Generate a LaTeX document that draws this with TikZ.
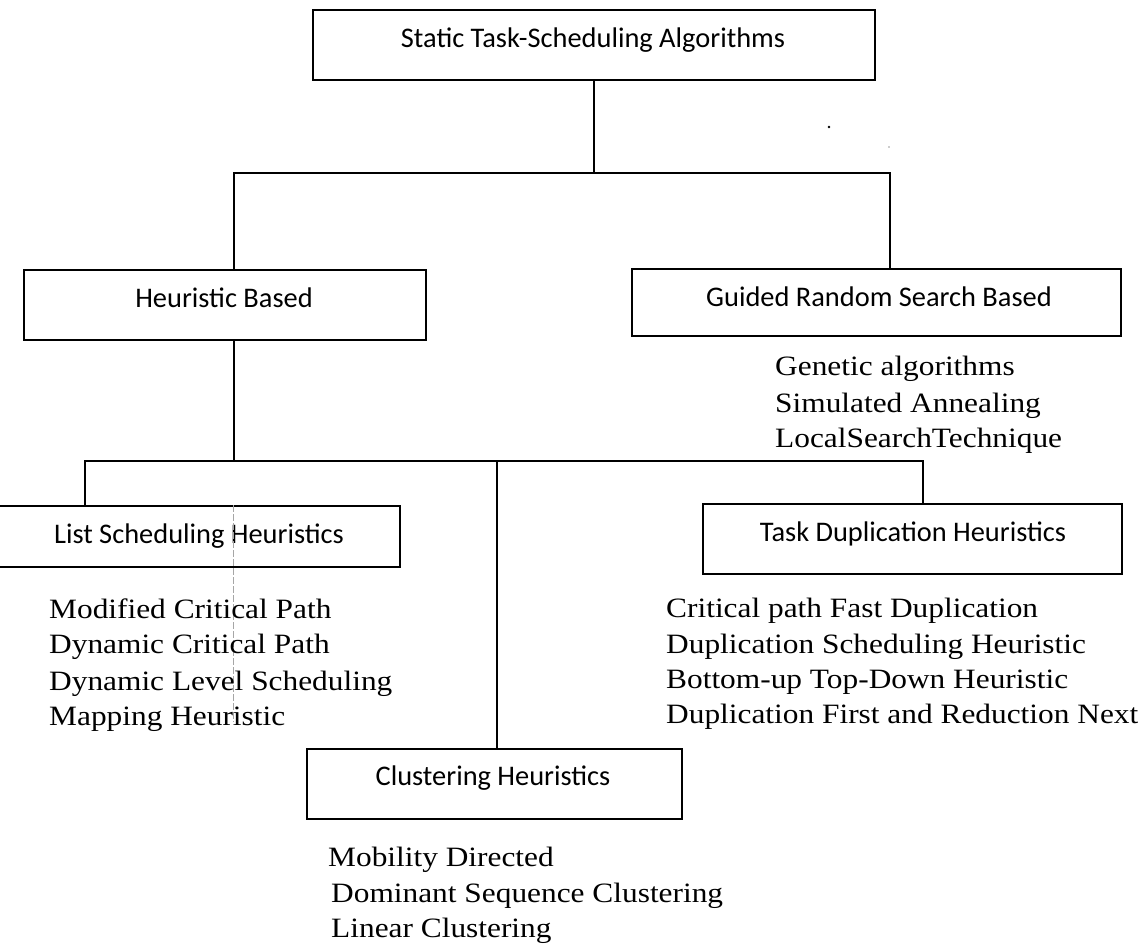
\documentclass[tikz,border=0pt]{standalone}
\usepackage{fontspec}
\setmainfont{Liberation Serif}
\newfontfamily\boxfont{Carlito}
\newfontfamily\listfont{Liberation Serif}[FakeStretch=1.12]
\begin{document}
\begin{tikzpicture}[x=1pt,y=-1pt,
  box/.style={draw, line width=2pt, inner sep=0pt, anchor=north west},
  blab/.style={font=\boxfont\fontsize{28.4}{34}\selectfont, inner sep=0pt, anchor=base},
  item/.style={font=\listfont\fontsize{28}{34}\selectfont, inner sep=0pt, anchor=base west},
  conn/.style={line width=1.8pt},
  faint/.style={draw=black!35, line width=0.7pt, dash pattern=on 7pt off 2pt}]
\useasboundingbox (0,0) rectangle (1143,946);

% boxes
\node[box, minimum width=562pt, minimum height=70pt] (top) at (312,9) {};
\node[box, minimum width=402pt, minimum height=70pt] (heur) at (23,269) {};
\node[box, minimum width=489pt, minimum height=67pt] (guid) at (631,268) {};
\node[box, minimum width=403pt, minimum height=61pt] (list) at (-4,505) {};
\node[box, minimum width=419pt, minimum height=70pt] (dup) at (702,503) {};
\node[box, minimum width=375pt, minimum height=70pt] (clus) at (306,748) {};

% box labels
\node[blab] (toplab) at (593,47) {Static Task-Scheduling Algorithms};
\node[blab] (heurlab) at (224,307) {Heuristic Based};
\node[blab] (guidlab) at (879,306) {Guided Random Search Based};
\node[blab] (listlab) at (199,543) {List Scheduling Heuristics};
\node[blab] (duplab) at (913,541) {Task Duplication Heuristics};
\node[blab] (cluslab) at (493,785) {Clustering Heuristics};

% junction coordinates
\coordinate (ja) at (234,173);
\coordinate (jb) at (890,173);
\coordinate (jc) at (85,461);
\coordinate (jd) at (497,461);
\coordinate (je) at (923,461);
\coordinate (jf) at (234,461);

% connectors
\draw[conn] (top.south) -- (top.south |- ja);
\draw[conn] (heur.north -| ja) -- (ja) -- (jb) -- (guid.north -| jb);
\draw[conn] (heur.south -| jf) -- (jf);
\draw[conn] (list.north -| jc) -- (jc) -- (je) -- (dup.north -| je);
\draw[conn] (jd) -- (clus.north -| jd);

% faint scan line through list box
\coordinate (fa) at (233,722);
\draw[faint] (list.north -| fa) -- (fa);

% specks
\fill (829,127) circle (1.3pt);
\fill[black!40] (889,147) circle (0.8pt);

% guided random search items
\node[item] (g1) at (775,375) {Genetic algorithms};
\node[item] (g2) at (775,412) {Simulated Annealing};
\node[item] (g3) at (775,447) {LocalSearchTechnique};

% list scheduling items
\node[item] (l1) at (49,618) {Modified Critical Path};
\node[item] (l2) at (49,653) {Dynamic Critical Path};
\node[item] (l3) at (49,690) {Dynamic Level Scheduling};
\node[item] (l4) at (49,725) {Mapping Heuristic};

% task duplication items
\node[item] (d1) at (666,617) {Critical path Fast Duplication};
\node[item] (d2) at (666,653) {Duplication Scheduling Heuristic};
\node[item] (d3) at (666,688) {Bottom-up Top-Down Heuristic};
\node[item] (d4) at (666,723) {Duplication First and Reduction Next};

% clustering items
\node[item] (c1) at (328,866) {Mobility Directed};
\node[item] (c2) at (331,902) {Dominant Sequence Clustering};
\node[item] (c3) at (331,937) {Linear Clustering};
\end{tikzpicture}
\end{document}
